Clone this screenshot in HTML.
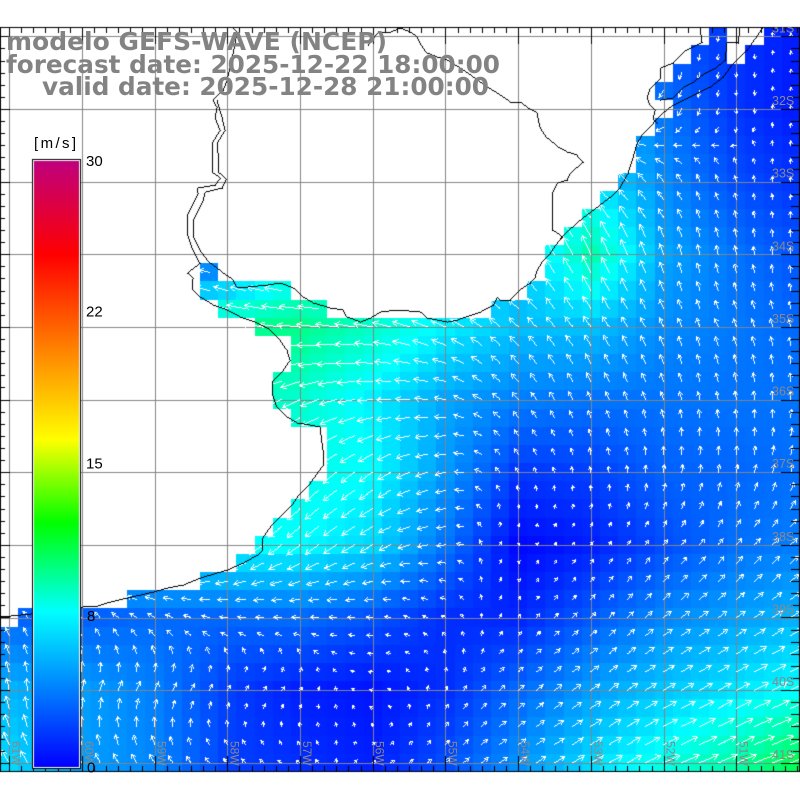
<!DOCTYPE html>
<html><head><meta charset="utf-8">
<style>
html,body{margin:0;padding:0;background:#fff;width:800px;height:800px;overflow:hidden;}
#c{position:absolute;left:0;top:0;}
svg{position:absolute;left:0;top:0;}
</style></head>
<body>
<canvas id="c" width="800" height="800"></canvas>
<svg width="800" height="800" viewBox="0 0 800 800">
<defs><clipPath id="mc"><rect x="0" y="27" width="800" height="745"/></clipPath></defs>
<g clip-path="url(#mc)" font-family="'Liberation Sans', sans-serif" font-size="12.5" fill="#8c8888">
<text x="772" y="32.3">31S</text>
<text x="772" y="105">32S</text>
<text x="772" y="177.6">33S</text>
<text x="772" y="250.3">34S</text>
<text x="772" y="322.9">35S</text>
<text x="772" y="395.6">36S</text>
<text x="772" y="468.2">37S</text>
<text x="772" y="540.9">38S</text>
<text x="772" y="613.5">39S</text>
<text x="772" y="686.2">40S</text>
<text x="772" y="758.8">41S</text>
</g>
<g font-family="'Liberation Sans', sans-serif" font-size="12" fill="#8c8888">
<text transform="translate(12.1,741) rotate(90)">61W</text>
<text transform="translate(84.8,741) rotate(90)">60W</text>
<text transform="translate(157.5,741) rotate(90)">59W</text>
<text transform="translate(230.3,741) rotate(90)">58W</text>
<text transform="translate(303,741) rotate(90)">57W</text>
<text transform="translate(375.7,741) rotate(90)">56W</text>
<text transform="translate(448.5,741) rotate(90)">55W</text>
<text transform="translate(521.2,741) rotate(90)">54W</text>
<text transform="translate(593.9,741) rotate(90)">53W</text>
<text transform="translate(666.6,741) rotate(90)">52W</text>
<text transform="translate(739.4,741) rotate(90)">51W</text>
</g>
<g font-family="'Liberation Sans', sans-serif" font-size="15" fill="#000">
<text x="34" y="148" letter-spacing="2.4">[m/s]</text>
<text x="86" y="166">30</text>
<text x="86" y="316.5">22</text>
<text x="86" y="468.5">15</text>
<text x="87" y="621">8</text>
<text x="87" y="772.5">0</text>
</g>
<g font-family="'DejaVu Sans', 'Liberation Sans', sans-serif" font-weight="bold" font-size="25" fill="#838383">
<text x="6" y="50" textLength="381" lengthAdjust="spacingAndGlyphs">modelo GEFS-WAVE (NCEP)</text>
<text x="6" y="73" textLength="494" lengthAdjust="spacingAndGlyphs">forecast date: 2025-12-22 18:00:00</text>
<text x="42" y="95" textLength="447" lengthAdjust="spacingAndGlyphs">valid date: 2025-12-28 21:00:00</text>
</g>
</svg>
<script>
(function(){
const cv=document.getElementById('c');const ctx=cv.getContext('2d');
ctx.fillStyle='#fff';ctx.fillRect(0,0,800,800);
const S=[
[0.3,0.3,0.3,0.3,0.3,0.3,0.3,0.3,0.3,0.35,0.2,0.08],
[0.3,0.3,0.3,0.3,0.3,0.3,0.3,0.6,0.8,0.45,0.2,0.08],
[0.3,0.3,0.3,0.3,0.3,0.3,0.6,0.9,0.9,0.55,0.3,0.18],
[0.3,0.3,0.3,0.3,0.9,1.0,0.9,0.75,1.3,0.65,0.45,0.3],
[1.0,1.0,1.0,1.4,1.45,1.2,0.95,0.75,0.75,0.55,0.47,0.4],
[1.0,1.0,1.0,1.25,1.2,0.95,0.65,0.5,0.45,0.45,0.45,0.45],
[1.0,1.0,1.0,1.1,1.1,1.0,0.6,0.22,0.25,0.38,0.4,0.44],
[0.9,0.9,0.9,1.0,1.0,0.85,0.45,0.03,0.12,0.3,0.44,0.5],
[0.4,0.38,0.42,0.4,0.42,0.32,0.18,0.15,0.35,0.53,0.63,0.72],
[0.7,0.62,0.5,0.25,0.12,0.08,0.18,0.4,0.62,0.78,0.9,1.05],
[0.85,0.62,0.53,0.25,0.18,0.12,0.3,0.56,0.85,1.1,1.35,1.75]];
const D=[
[0,0,0,0,0,0,0,0,0,200,180,0],
[0,0,0,0,0,0,0,300,300,220,180,0],
[0,0,0,0,0,0,300,310,310,320,345,0],
[280,280,280,290,280,280,300,320,335,340,350,355],
[280,280,280,280,275,280,295,315,325,335,340,345],
[250,250,250,250,245,265,280,320,335,340,350,0],
[230,230,230,225,225,235,255,330,350,5,10,15],
[240,240,240,240,232,240,265,45,35,35,40,45],
[330,315,300,275,272,272,300,40,45,50,55,58],
[350,15,28,32,40,280,30,50,55,60,62,65],
[330,335,330,320,300,60,45,55,60,65,68,70]];
const U=D.map(r=>r.map(d=>Math.sin(d*Math.PI/180)));
const V=D.map(r=>r.map(d=>-Math.cos(d*Math.PI/180)));
function bil(G,a,b){const a0=Math.min(Math.floor(a),10),b0=Math.min(Math.floor(b),9);const ta=a-a0,tb=b-b0;
return G[b0][a0]*(1-ta)*(1-tb)+G[b0][a0+1]*ta*(1-tb)+G[b0+1][a0]*(1-ta)*tb+G[b0+1][a0+1]*ta*tb;}
function col(s){s=Math.max(0,Math.min(2,s));let g,b;if(s<=1){g=Math.round(255*s);b=255;}else{g=255;b=Math.round(255*(2-s));}return 'rgb(0,'+g+','+b+')';}
function pl(x0,y0,x1,y1){const dx=x1-x0,dy=y1-y0;const n=Math.max(Math.ceil(Math.abs(dx)),Math.ceil(Math.abs(dy)),1);
 for(let k=0;k<=n;k++){ctx.fillRect(Math.floor(x0+dx*k/n),Math.floor(y0+dy*k/n),1,1);}}
const R=[[[39,39],[42,43]],[[38,39],[41,43]],[[37,43]],[[36,43]],[[37,43]],[[36,43]],[[35,43]],[[35,43]],[[34,43]],[[33,43]],[[32,43]],[[31,43]],[[30,43]],[[11,11],[30,43]],[[11,15],[29,43]],[[12,17],[27,43]],[[14,43]],[[16,43]],[[16,43]],[[15,43]],[[15,43]],[[16,43]],[[18,43]],[[18,43]],[[18,43]],[[17,43]],[[16,43]],[[15,43]],[[14,43]],[[13,43]],[[11,43]],[[7,43]],[[1,43]]];
for(let j=33;j<=40;j++)R.push([[0,43]]);
const cw=800/44,ch=18.1625,y0=27.22;
ctx.save();ctx.beginPath();ctx.rect(0,27,800,745);ctx.clip();
const cells=[];
for(let j=0;j<R.length;j++){for(const rg of R[j]){for(let i=rg[0];i<=rg[1];i++){
 const s=bil(S,i/4,j/4);const x=Math.round(i*cw),y=Math.round(y0+j*ch);
 const w=Math.round((i+1)*cw)-x,h=Math.round(y0+(j+1)*ch)-y;
 ctx.fillStyle=col(s);ctx.fillRect(x,y,w,h);cells.push([i,j,s]);}}}
// grid lines
ctx.fillStyle='#858585';
for(let k=0;k<=10;k++){const x=Math.round(9.09+72.727*k);ctx.fillRect(x,27,1,745);}
for(let k=0;k<=10;k++){const y=Math.round(36.3+72.65*k);ctx.fillRect(0,y,800,1);}
// arrows (aliased pixel lines)
ctx.fillStyle='#fff';
for(const c of cells){const i=c[0],j=c[1],s=c[2];
 let u=bil(U,i/4,j/4),v=bil(V,i/4,j/4);let m=Math.hypot(u,v);if(m<1e-6){u=0;v=-1;m=1;}u/=m;v/=m;
 const L=Math.min(23,2+14.5*s);const cx=9.09+cw*i,cy=36.3+ch*j;const ex=cx+u*L,ey=cy+v*L;
 const h=Math.min(5.5,1.8+0.25*L);const a=30*Math.PI/180;const bx=-u,by=-v;
 const h1x=ex+h*(bx*Math.cos(a)-by*Math.sin(a)),h1y=ey+h*(bx*Math.sin(a)+by*Math.cos(a));
 const h2x=ex+h*(bx*Math.cos(-a)-by*Math.sin(-a)),h2y=ey+h*(bx*Math.sin(-a)+by*Math.cos(-a));
 pl(cx,cy,ex,ey);pl(ex,ey,h1x,h1y);pl(ex,ey,h2x,h2y);}
// coastlines
const lines=[
[[233,27],[237,32],[235,43],[233,53],[230,67],[227,80],[223,90],[215,97],[213,100],[217,107],[215,117],[220,130],[212,143],[212,153],[213,173],[220,178],[215,185],[197,188],[198,193],[193,203],[188,213],[187,233],[193,250],[200,263],[187,273],[193,278],[192,288],[200,297],[213,305],[227,310],[240,317],[257,323],[270,330],[280,340],[287,350],[290,360],[283,370],[273,380],[272,393],[277,407],[287,417],[297,423],[310,425],[320,427],[323,450],[323,465],[310,483],[300,493],[293,503],[283,513],[270,527],[263,537],[262,550],[257,555],[243,563],[227,570],[200,578],[183,585],[167,588],[153,592],[127,598],[110,602],[97,606],[82,607],[30,614],[0,617]],
[[217,100],[222,117],[225,130],[217,143],[218,153],[219,173],[226,179],[222,188],[205,192],[203,200],[198,210],[193,220],[193,235],[200,250],[210,263],[223,273],[233,280],[237,287],[247,287],[267,285],[280,283],[293,288],[303,297],[313,303],[330,308],[343,310],[347,317],[360,322],[370,318],[380,312],[397,310],[420,312],[427,318],[447,322],[457,320],[480,312],[493,305],[497,297],[500,300],[510,300],[519,290],[530,283],[535,277],[537,270],[543,260],[550,253],[557,243],[563,235],[580,220],[597,207],[610,197],[620,187],[628,173],[633,157],[637,143],[643,133],[653,123],[660,115],[670,107],[683,100],[697,93],[710,87],[723,77],[733,63],[747,50],[763,27]],
[[368,45],[377,33],[390,32],[400,28],[410,32],[417,37],[420,43],[427,53],[437,57],[447,60],[463,70],[473,77],[487,87],[497,93],[510,102],[520,102],[528,108],[537,113],[540,127],[547,138],[558,147],[567,152],[577,155],[583,162],[570,173],[567,180],[557,183],[552,193],[552,213],[552,230],[557,233],[562,237],[557,243]],
[[700,27],[702,42],[692,47],[683,52],[673,63],[660,68],[660,78],[650,88],[647,97],[650,105],[655,110],[653,118],[657,123]],
[[740,27],[738,43],[727,42],[725,60],[715,68],[702,75],[693,82],[683,87],[672,98],[660,100]]];
ctx.fillStyle='#000';
for(const ln of lines){for(let k=1;k<ln.length;k++)pl(ln[k-1][0],ln[k-1][1],ln[k][0],ln[k][1]);}
ctx.restore();
// frame and ticks
ctx.fillStyle='#000';
ctx.fillRect(0,27,800,1);ctx.fillRect(0,771,800,1);ctx.fillRect(0,27,1,745);ctx.fillRect(799,27,1,745);
for(let m=0;;m++){const x=9.09+12.1212*m;if(x>800)break;const mj=m%6==0;const X=Math.round(x);
 ctx.fillRect(X,28,1,mj?16:5);ctx.fillRect(X,771-(mj?15:5),1,mj?15:5);}
for(let m=0;;m++){const y=36.3+12.1083*m;if(y>771)break;const mj=m%6==0;const Y=Math.round(y);
 ctx.fillRect(1,Y,mj?9:4,1);ctx.fillRect(799-(mj?18:8),Y,mj?18:8,1);}
// colorbar
ctx.fillStyle='#000';ctx.fillRect(32,159,49,610);
ctx.fillStyle='#fff';ctx.fillRect(33,160,47,608);
const g=ctx.createLinearGradient(0,161,0,767);
g.addColorStop(0,'#c0007e');g.addColorStop(0.155,'#ff0000');g.addColorStop(0.46,'#ffff00');
g.addColorStop(0.597,'#00ff00');g.addColorStop(0.744,'#00ffff');g.addColorStop(1,'#0000ff');
ctx.fillStyle=g;ctx.fillRect(34,161,45,606);
})();
</script>
</body></html>
